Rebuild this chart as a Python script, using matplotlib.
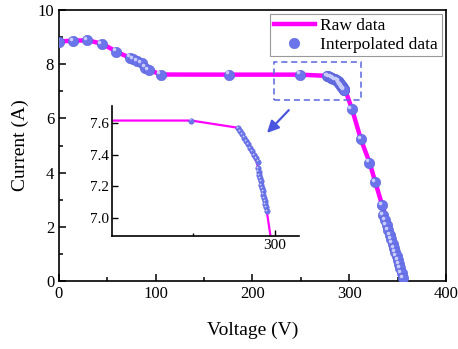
import numpy as np
import matplotlib
matplotlib.use('Agg')
import matplotlib.pyplot as plt
from matplotlib.patches import Rectangle
from matplotlib.lines import Line2D
import matplotlib.transforms as mtransforms

plt.rcParams['font.family'] = ['Liberation Serif', 'DejaVu Serif']

# raw measured I-V curve (V, A)
raw_v = [0, 15, 30, 45, 60, 75, 90, 105, 180, 249, 277, 283, 289, 292, 295,
         298, 303, 312, 321, 327, 334, 340, 346, 351, 355, 357.5]
raw_i = [8.84, 8.87, 8.88, 8.75, 8.45, 8.21, 7.84, 7.62, 7.615, 7.615, 7.57,
         7.47, 7.35, 7.19, 7.04, 6.83, 6.33, 5.23, 4.37, 3.64, 2.80, 2.02,
         1.25, 0.62, 0.22, 0.0]

# interpolated points
interp_v = [0.5, 14.7, 29.2, 44.0, 58.8, 73.2, 76.6, 80.7, 85.3, 89.4, 92.8,
            105.0, 176.0, 249.0,
            277.3, 278.5, 279.8, 281.0, 282.3, 283.5, 284.8, 286.0, 287.3,
            288.5, 289.8,
            289.5, 289.9, 290.3, 290.8, 291.2, 291.6, 292.0, 292.5, 292.9,
            293.3, 293.7, 294.1, 294.5, 294.9,
            302.5, 312.0, 320.6, 326.5, 333.7,
            335.0, 337.0, 338.8, 340.5, 342.1, 343.6, 345.0, 346.4, 347.7,
            349.0, 350.3, 351.6, 352.9, 354.2, 355.5]
interp_i = [8.83, 8.86, 8.88, 8.75, 8.46, 8.24, 8.18, 8.12, 8.03, 7.87, 7.79,
            7.62, 7.615, 7.615,
            7.570, 7.550, 7.529, 7.508, 7.487, 7.465, 7.443, 7.421, 7.399,
            7.377, 7.356,
            7.314, 7.293, 7.272, 7.252, 7.231, 7.210, 7.189, 7.169, 7.148,
            7.127, 7.107, 7.086, 7.066, 7.045,
            6.35, 5.23, 4.37, 3.64, 2.80,
            2.44, 2.24, 2.05, 1.87, 1.70, 1.54, 1.38, 1.22, 1.07,
            0.92, 0.77, 0.62, 0.47, 0.30, 0.10]

magenta = '#ff00ff'
dot_c = '#6b74ea'
hi_c = '#c9cdfa'

fig = plt.figure(figsize=(4.58, 3.49), dpi=100)
ax = fig.add_axes([0.1288, 0.1948, 0.845, 0.7765])


def draw_dots(a, ms, hms):
    a.plot(interp_v, interp_i, 'o', ls='none', ms=ms, mfc=dot_c,
           mec='#5a62d6', mew=0.4, zorder=3)
    tr = mtransforms.offset_copy(a.transData, fig=fig, x=-ms * 0.22,
                                 y=ms * 0.22, units='points')
    a.plot(interp_v, interp_i, 'o', ls='none', ms=hms, mfc=hi_c, mec='none',
           transform=tr, zorder=4)


ax.plot(raw_v, raw_i, color=magenta, lw=3.2, zorder=2)
draw_dots(ax, 7.5, 2.6)

ax.set_xlim(0, 400)
ax.set_ylim(0, 10)
ax.set_xticks([0, 100, 200, 300, 400])
ax.set_xticks([50, 150, 250, 350], minor=True)
ax.set_yticks([0, 2, 4, 6, 8, 10])
ax.set_yticks([1, 3, 5, 7, 9], minor=True)
ax.tick_params(which='both', direction='in', labelsize=12, width=1.1)
ax.tick_params(which='major', length=5)
ax.tick_params(which='minor', length=3)
for s in ax.spines.values():
    s.set_linewidth(1.2)
ax.set_xlabel('Voltage (V)', fontsize=14, labelpad=14)
ax.set_ylabel('Current (A)', fontsize=14, labelpad=6)

# zoom box and arrow
ax.add_patch(Rectangle((222.7, 6.68), 89.7, 1.41, fill=False,
                       ec='#5a66dd', ls=(0, (4, 2.5)), lw=1.1, zorder=5))
ax.annotate('', xy=(213.0, 5.39), xytext=(239.5, 6.38),
            arrowprops=dict(arrowstyle='-|>,head_width=0.35,head_length=0.7',
                            color='#4a56e0', lw=1.6))

handles = [Line2D([], [], color=magenta, lw=3.2),
           Line2D([], [], marker='o', ls='none', ms=7.5, mfc=dot_c,
                  mec='#5a62d6', mew=0.4)]
leg = ax.legend(handles, ['Raw data', 'Interpolated data'], loc='upper right',
                fontsize=12.5, frameon=True, fancybox=False, framealpha=1,
                edgecolor='#999999', borderaxespad=0.25, handlelength=2.4,
                handletextpad=0.3, borderpad=0.2, labelspacing=0.15)
leg.get_frame().set_linewidth(0.8)

# inset
ax2 = fig.add_axes([0.2445, 0.3238, 0.4083, 0.3725])
ax2.patch.set_alpha(0)
ax2.plot(raw_v, raw_i, color=magenta, lw=1.6, zorder=2)
ax2.plot(interp_v, interp_i, 'o', ls='none', ms=4, mfc=dot_c,
         mec='#5a62d6', mew=0.3, zorder=3)
tr2 = mtransforms.offset_copy(ax2.transData, fig=fig, x=-0.8, y=0.8,
                              units='points')
ax2.plot(interp_v, interp_i, 'o', ls='none', ms=1.3, mfc=hi_c, mec='none',
         transform=tr2, zorder=4)
ax2.set_xlim(200.5, 314.6)
ax2.set_ylim(6.886, 7.707)
ax2.set_xticks([300])
ax2.set_xticks([250], minor=True)
ax2.set_yticks([7.0, 7.2, 7.4, 7.6])
ax2.set_yticklabels(['7.0', '7.2', '7.4', '7.6'])
ax2.tick_params(which='both', direction='in', labelsize=11, width=1.0)
ax2.tick_params(which='major', length=4, pad=2)
ax2.tick_params(which='minor', length=2.5)
ax2.spines['top'].set_visible(False)
ax2.spines['right'].set_visible(False)
for s in ['left', 'bottom']:
    ax2.spines[s].set_linewidth(1.2)

fig.savefig('out.png', dpi=100)
